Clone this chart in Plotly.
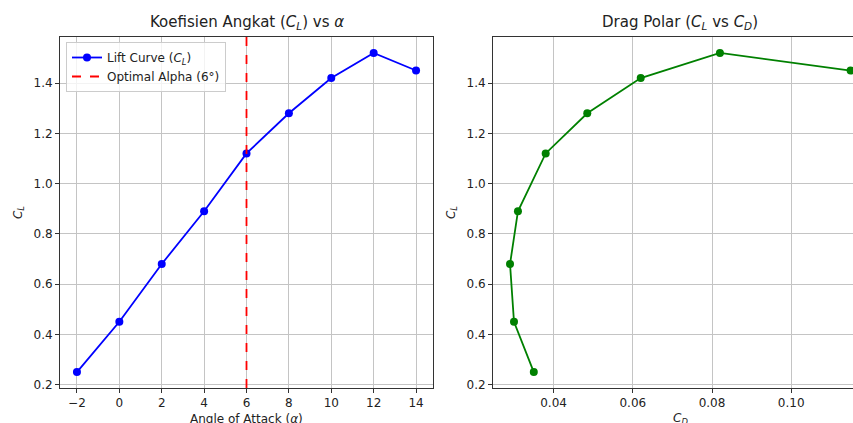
import plotly.graph_objects as go

# ---- data ----
alpha = [-2, 0, 2, 4, 6, 8, 10, 12, 14]
cl = [0.25, 0.45, 0.68, 0.89, 1.12, 1.28, 1.42, 1.52, 1.45]
cd = [0.035, 0.030, 0.029, 0.031, 0.038, 0.0485, 0.062, 0.082, 0.115]
optimal_alpha = 6

W, H = 853, 423
ML, MR, MT, MB = 60, 0, 37, 35
PW = W - ML - MR
PH = H - MT - MB

def px2x(p):
    return (p - ML) / PW

def pad_range(vals, frac=0.05):
    lo, hi = min(vals), max(vals)
    d = (hi - lo) * frac
    return [lo - d, hi + d]

yr = pad_range(cl)
xr1 = pad_range(alpha)
xr2_full = pad_range(cd)
# right panel is cropped in the reference at the figure edge
xr2 = [xr2_full[0], 0.1156]

FONT = "DejaVu Sans"
GRID = "#c4c4c4"
SPINE = "#333333"
FS = 12

fig = go.Figure()

fig.add_trace(go.Scatter(
    x=alpha, y=cl, mode="lines+markers",
    name="Lift Curve (<i>C</i><sub><i>L</i></sub>)",
    line=dict(color="blue", width=1.8),
    marker=dict(color="blue", size=8),
    xaxis="x", yaxis="y", cliponaxis=False,
))
fig.add_trace(go.Scatter(
    x=[optimal_alpha, optimal_alpha], y=yr, mode="lines",
    name="Optimal Alpha (6°)",
    line=dict(color="red", width=1.8, dash="dash"),
    xaxis="x", yaxis="y",
))
fig.add_trace(go.Scatter(
    x=cd, y=cl, mode="lines+markers", showlegend=False,
    line=dict(color="green", width=1.8),
    marker=dict(color="green", size=8),
    xaxis="x2", yaxis="y2",
))

axcommon = dict(
    showgrid=True, gridcolor=GRID, gridwidth=1,
    showline=True, linecolor=SPINE, linewidth=1,
    ticks="outside", ticklen=4, tickcolor=SPINE, tickwidth=1,
    tickfont=dict(family=FONT, size=FS, color="#222"),
    zeroline=False, automargin=False,
)

fig.update_layout(
    width=W, height=H,
    margin=dict(l=ML, r=MR, t=MT, b=MB),
    paper_bgcolor="white", plot_bgcolor="white",
    font=dict(family=FONT, size=FS, color="#222"),
    xaxis=dict(domain=[0, px2x(433)], range=xr1, dtick=2, tick0=0,
               mirror=True, anchor="y", **axcommon),
    yaxis=dict(domain=[0, 1], range=yr, dtick=0.2, tick0=0, tickformat=".1f",
               mirror=True, anchor="x",
               title=dict(text="<i>C</i><sub><i>L</i></sub>", standoff=8,
                          font=dict(family=FONT, size=FS)),
               **axcommon),
    xaxis2=dict(domain=[px2x(493), 1], range=xr2, dtick=0.02, tick0=0,
                tickformat=".2f", mirror=True, anchor="y2", **axcommon),
    yaxis2=dict(domain=[0, 1], range=yr, dtick=0.2, tick0=0, tickformat=".1f",
                mirror=False, anchor="x2",
                title=dict(text="<i>C</i><sub><i>L</i></sub>", standoff=8,
                           font=dict(family=FONT, size=FS)),
                **axcommon),
    legend=dict(
        x=px2x(66), y=1 - 5 / PH, xanchor="left", yanchor="top",
        bgcolor="rgba(255,255,255,0.8)", bordercolor="#cccccc", borderwidth=1,
        font=dict(family=FONT, size=FS, color="#222"),
        tracegroupgap=0, itemwidth=30,
    ),
    showlegend=True,
)

# axis titles (x) placed as annotations for exact position
for txt, cx in [("Angle of Attack (<i>α</i>)", 246.5),
                ("<i>C</i><sub><i>D</i></sub>", 680)]:
    fig.add_annotation(
        text=txt, xref="paper", yref="paper", x=px2x(cx), y=0, yshift=-31,
        xanchor="center", yanchor="middle", showarrow=False,
        font=dict(family=FONT, size=FS, color="#222"),
    )

fig.add_annotation(
    text="Koefisien Angkat (<i>C</i><sub><i>L</i></sub>) vs <i>α</i>",
    xref="paper", yref="paper", x=px2x(246.5), y=1, yshift=3,
    xanchor="center", yanchor="bottom", showarrow=False,
    font=dict(family=FONT, size=15, color="#222"),
)
fig.add_annotation(
    text="Drag Polar (<i>C</i><sub><i>L</i></sub> vs <i>C</i><sub><i>D</i></sub>)",
    xref="paper", yref="paper", x=px2x(680), y=1, yshift=3,
    xanchor="center", yanchor="bottom", showarrow=False,
    font=dict(family=FONT, size=15, color="#222"),
)

fig.write_html(
    "out.html",
    config={"displayModeBar": False},
    post_script="document.body.style.margin='0';document.body.style.overflow='hidden';",
)
